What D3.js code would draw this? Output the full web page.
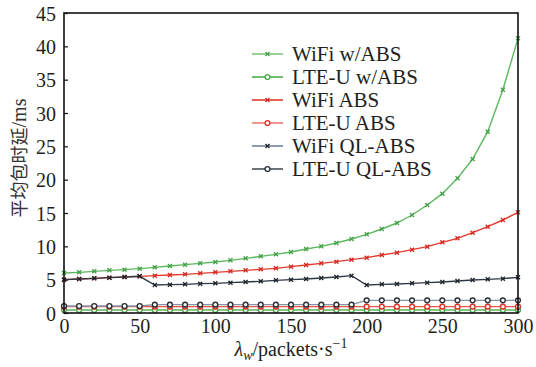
<!DOCTYPE html>
<html>
<head>
<meta charset="utf-8">
<script src="https://cdn.jsdelivr.net/npm/d3@7"></script>
<style>
    body { margin: 0; background: #fff; }
    svg { display: block; }
</style>
</head>
<body>
<svg id="chart"></svg>
<script>
// arrival rate (x axis)
const lambdaW = [0, 10, 20, 30, 40, 50, 60, 70, 80, 90, 100, 110, 120, 130, 140, 150,
    160, 170, 180, 190, 200, 210, 220, 230, 240, 250, 260, 270, 280, 290, 300];

const wifiWAbs = [6.0, 6.1, 6.25, 6.4, 6.5, 6.65, 6.85, 7.05, 7.25, 7.45, 7.65, 7.9, 8.2, 8.5, 8.8, 9.15,
    9.6, 10.0, 10.5, 11.1, 11.8, 12.6, 13.5, 14.7, 16.2, 17.9, 20.2, 23.1, 27.2, 33.5, 41.2];
const lteWAbs = [0.45, 0.45, 0.45, 0.45, 0.45, 0.45, 0.45, 0.45, 0.45, 0.45, 0.45, 0.45, 0.45, 0.45, 0.45, 0.45,
    0.45, 0.45, 0.45, 0.45, 0.45, 0.45, 0.45, 0.45, 0.45, 0.45, 0.45, 0.45, 0.45, 0.45, 0.45];
const wifiAbs = [5.0, 5.1, 5.2, 5.3, 5.4, 5.5, 5.6, 5.7, 5.8, 5.95, 6.1, 6.25, 6.4, 6.55, 6.7, 6.95,
    7.2, 7.45, 7.7, 8.0, 8.3, 8.7, 9.05, 9.5, 9.95, 10.6, 11.2, 12.05, 12.95, 13.95, 15.1];
const lteAbs = [0.95, 0.95, 0.95, 0.95, 0.95, 0.95, 0.95, 0.95, 0.95, 0.95, 0.95, 0.95, 0.95, 0.95, 0.95, 0.95,
    0.95, 0.95, 0.95, 0.95, 0.95, 0.95, 0.95, 0.95, 0.95, 0.95, 0.95, 0.95, 0.95, 0.95, 0.95];
const wifiQl = [5.0, 5.1, 5.2, 5.3, 5.4, 5.5, 4.2, 4.25, 4.3, 4.4, 4.45, 4.55, 4.65, 4.75, 4.9, 5.0,
    5.1, 5.25, 5.4, 5.6, 4.2, 4.3, 4.35, 4.45, 4.55, 4.65, 4.8, 4.95, 5.05, 5.15, 5.35];
const lteQl = [1.05, 1.05, 1.05, 1.05, 1.05, 1.05, 1.25, 1.25, 1.25, 1.25, 1.25, 1.25, 1.25, 1.25, 1.25, 1.25,
    1.25, 1.25, 1.25, 1.25, 1.9, 1.9, 1.9, 1.9, 1.9, 1.9, 1.9, 1.9, 1.9, 1.9, 1.9];

const xTicks = [0, 50, 100, 150, 200, 250, 300];
const yTicks = [0, 5, 10, 15, 20, 25, 30, 35, 40, 45];

const seriesNames = ["WiFi w/ABS", "LTE-U w/ABS", "WiFi ABS", "LTE-U ABS", "WiFi QL-ABS", "LTE-U QL-ABS"];

const SERIF = "Liberation Serif";

// drawing order: lower lines first, QL-ABS on top
const series = [
    { name: seriesNames[1], values: lteWAbs, color: "#5bb35a", mark: "#4aa849", shape: "o", leg: "#4caf50" },
    { name: seriesNames[0], values: wifiWAbs, color: "#5cb85c", mark: "#43a047", shape: "x", leg: "#7dc67c" },
    { name: seriesNames[3], values: lteAbs, color: "#e8554c", mark: "#e0332b", shape: "o", leg: "#ec7b73" },
    { name: seriesNames[2], values: wifiAbs, color: "#e23a30", mark: "#d62a22", shape: "x", leg: "#e23a30" },
    { name: seriesNames[5], values: lteQl, color: "#8593a3", mark: "#2b3038", shape: "o", leg: "#4a5058" },
    { name: seriesNames[4], values: wifiQl, color: "#2f3945", mark: "#1e232a", shape: "x", leg: "#6f819a" }
];

const width = 536, height = 367;
const margin = { top: 13, right: 18, bottom: 54, left: 64 };

const svg = d3.select("#chart")
    .attr("width", width)
    .attr("height", height);

const x = d3.scaleLinear().domain([0, 300]).range([margin.left, width - margin.right]);
const y = d3.scaleLinear().domain([0, 45]).range([height - margin.bottom, margin.top]);

// axes, ticks pointing inward
svg.append("g")
    .attr("transform", `translate(0,${y(0)})`)
    .call(d3.axisBottom(x).tickValues(xTicks).tickSize(-5).tickPadding(6))
    .attr("font-family", SERIF)
    .call(g => g.select(".domain").remove())
    .call(g => g.selectAll(".tick line").attr("stroke", "#111").attr("stroke-width", 1.8))
    .call(g => g.selectAll("text").attr("font-size", 20).attr("fill", "#231f20")
        .style("font-family", SERIF));

svg.append("g")
    .attr("transform", `translate(${x(0)},0)`)
    .call(d3.axisLeft(y).tickValues(yTicks).tickSize(-4).tickPadding(8))
    .attr("font-family", SERIF)
    .call(g => g.select(".domain").remove())
    .call(g => g.selectAll(".tick line").attr("stroke", "#111").attr("stroke-width", 1.2))
    .call(g => g.selectAll("text").attr("font-size", 20).attr("fill", "#231f20").attr("dy", "0.36em")
        .style("font-family", SERIF));

const line = d3.line()
    .x((d, i) => x(lambdaW[i]))
    .y(d => y(d));

function drawMarker(sel, shape, color) {
    if (shape === "x") {
        sel.append("path")
            .attr("d", "M-2,-2L2,2M-2,2L2,-2")
            .attr("stroke", color)
            .attr("stroke-width", 1.3)
            .attr("fill", "none");
    } else {
        sel.append("circle")
            .attr("r", 2.4)
            .attr("fill", "#fff")
            .attr("stroke", color)
            .attr("stroke-width", 1.4);
    }
}

const plot = svg.append("g");

series.forEach(s => {
    plot.append("path")
        .datum(s.values)
        .attr("fill", "none")
        .attr("stroke", s.color)
        .attr("stroke-width", 1.4)
        .attr("d", line);

    plot.append("g")
        .selectAll("g")
        .data(s.values)
        .join("g")
        .attr("transform", (d, i) => `translate(${x(lambdaW[i])},${y(d)})`)
        .each(function () { drawMarker(d3.select(this), s.shape, s.mark); });
});

// frame
svg.append("rect")
    .attr("x", x(0))
    .attr("y", y(45))
    .attr("width", x(300) - x(0))
    .attr("height", y(0) - y(45))
    .attr("fill", "none")
    .attr("stroke", "#111")
    .attr("stroke-width", 1.6);

// legend
const legendOrder = [1, 0, 3, 2, 5, 4];
const legend = svg.append("g").attr("transform", "translate(252,54)");
legendOrder.forEach((k, i) => {
    const s = series[k];
    const row = legend.append("g").attr("transform", `translate(0,${i * 23})`);
    row.append("line")
        .attr("x1", 0).attr("x2", 31)
        .attr("stroke", s.leg)
        .attr("stroke-width", 1.6);
    drawMarker(row.append("g").attr("transform", "translate(15.5,0)"), s.shape, s.mark);
    row.append("text")
        .attr("x", 40)
        .attr("y", 0)
        .attr("dy", "0.33em")
        .attr("font-size", 21)
        .style("font-family", SERIF)
        .attr("fill", "#231f20")
        .text(s.name);
});

// axis titles
svg.append("text")
    .attr("transform", `translate(26,${(y(0) + y(45)) / 2 - 5}) rotate(-90)`)
    .attr("text-anchor", "middle")
    .attr("font-size", 18)
    .attr("fill", "#333")
    .call(t => t.append("tspan").style("font-family", "Noto Sans CJK SC").text("平均包时延"))
    .call(t => t.append("tspan").style("font-family", SERIF).attr("font-size", 20).text("/ms"));

const xTitle = svg.append("text")
    .attr("x", 291)
    .attr("y", 356)
    .attr("text-anchor", "middle")
    .attr("font-size", 20)
    .style("font-family", SERIF)
    .attr("fill", "#231f20");
xTitle.append("tspan").attr("font-style", "italic").text("λ");
xTitle.append("tspan").attr("font-style", "italic").attr("font-size", 14).attr("dy", 4).text("w");
xTitle.append("tspan").attr("dy", -4).text("/packets·s");
xTitle.append("tspan").attr("font-size", 14).attr("dy", -8).text("−1");
</script>
</body>
</html>
